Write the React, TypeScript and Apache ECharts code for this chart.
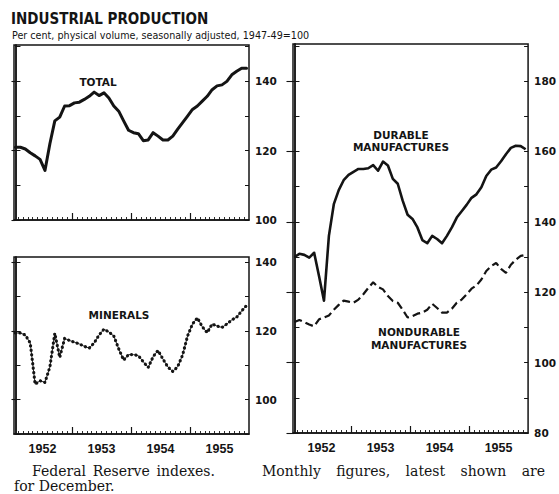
import React, { useEffect, useRef } from 'react';
import * as echarts from 'echarts';

// ---- data (monthly, Jan 1952 – Dec 1955; index 1947-49 = 100) ----
const years = ['1952', '1953', '1954', '1955'];

const total = [
  121.0, 121.0, 120.5, 119.4, 118.5, 117.5, 114.3, 122.0, 128.6, 129.7,
  132.9, 133.0, 133.8, 134.0, 134.8, 135.7, 136.9, 135.9, 136.7, 135.2,
  132.9, 131.4, 128.6, 125.9, 125.2, 124.9, 122.9, 123.1, 125.2, 124.2,
  123.1, 123.1, 124.2, 126.2, 128.1, 130.0, 131.9, 132.9, 134.3, 135.7,
  137.6, 138.7, 139.0, 140.0, 141.9, 142.9, 143.8, 143.8,
];

const minerals = [
  119.4, 119.4, 118.8, 116.5, 104.5, 105.5, 105.0, 109.5, 119.3, 112.3,
  117.8, 117.2, 116.7, 116.2, 115.5, 115.0, 116.5, 118.8, 120.5, 119.7,
  118.5, 114.8, 111.5, 113.1, 113.1, 112.8, 111.0, 109.4, 112.5, 114.3,
  111.8, 109.5, 108.2, 109.6, 113.0, 118.5, 122.0, 123.8, 121.2, 119.5,
  122.0, 121.4, 121.0, 122.0, 123.2, 124.0, 125.8, 127.4,
];

const durable = [
  130.0, 130.9, 130.6, 129.8, 131.2, 124.5, 117.6, 136.0, 145.0, 149.0,
  151.8, 153.3, 154.2, 155.0, 155.0, 155.2, 156.1, 154.5, 157.1, 156.0,
  152.2, 150.8, 146.0, 142.0, 140.8, 138.4, 134.8, 133.9, 136.0, 135.1,
  133.9, 136.0, 138.4, 141.2, 143.0, 144.8, 146.8, 147.8, 149.8, 153.0,
  154.8, 155.4, 157.2, 159.2, 161.0, 161.6, 161.5, 160.6,
];

const nondurable = [
  111.5, 112.1, 111.5, 110.8, 110.3, 112.3, 112.8, 113.4, 115.0, 116.4,
  117.6, 117.3, 117.0, 117.9, 119.4, 121.2, 122.8, 121.5, 120.8, 118.9,
  117.5, 117.0, 115.0, 112.8, 113.2, 113.9, 114.2, 115.0, 116.7, 115.5,
  114.2, 114.2, 115.3, 117.0, 117.9, 119.4, 121.0, 121.9, 123.6, 126.0,
  127.4, 128.3, 126.6, 125.5, 127.8, 129.2, 130.3, 130.6,
];

const totalTickLabels = [100, 120, 140];
const mineralTickLabels = [100, 120, 140];
const manufTickLabels = [80, 100, 120, 140, 160, 180];

const titleText = 'INDUSTRIAL PRODUCTION';
const subtitleText = 'Per cent, physical volume, seasonally adjusted, 1947-49=100';
const captionA = ['Federal', 'Reserve', 'indexes.'];
const captionB = ['Monthly', 'figures,', 'latest', 'shown', 'are'];
const captionC = 'for December.';

export default function App() {
  const ref = useRef<HTMLDivElement>(null);

  useEffect(() => {
    if (!ref.current) return;
    const chart = echarts.init(ref.current, null, { renderer: 'svg' });
    const ink = '#141414';
    const X_MIN = -0.3;
    const X_MAX = 47.5;

    const monthTicks = total.slice(0, -1).map((_, i) => i + 0.5);
    const yearBounds = years.slice(1).map((_, k) => (k + 1) * 12 - 0.5);
    const yearCenters = years.map((_, k) => k * 12 + 5.5);

    const minorOf = (min: number, max: number) => {
      const out: number[] = [];
      for (let v = Math.ceil(min / 10) * 10; v <= max; v += 10) out.push(v);
      return out;
    };

    const panels = [
      { grid: { left: 14, top: 45, width: 235, height: 175 }, min: 100, max: 150.5, labels: totalTickLabels, showYears: false, majorLen: 4 },
      { grid: { left: 14, top: 257, width: 235, height: 177 }, min: 90, max: 141.5, labels: mineralTickLabels, showYears: true, majorLen: 4 },
      { grid: { left: 293, top: 44, width: 236, height: 389 }, min: 80, max: 190.5, labels: manufTickLabels, showYears: true, majorLen: 8 },
    ];

    const grids: any[] = [];
    const xAxes: any[] = [];
    const yAxes: any[] = [];

    panels.forEach((p, k) => {
      grids.push({ ...p.grid, show: true, borderColor: ink, borderWidth: 1.5, backgroundColor: 'transparent', containLabel: false });
      xAxes.push({
        type: 'value', gridIndex: k, position: 'bottom', min: X_MIN, max: X_MAX,
        axisLine: { show: true, lineStyle: { color: ink, width: 1.5 } },
        axisTick: { show: true, inside: true, length: 3, customValues: monthTicks, lineStyle: { color: ink, width: 0.9 } },
        axisLabel: {
          show: p.showYears, customValues: yearCenters, margin: 8,
          formatter: (v: number) => years[Math.round((v - 5.5) / 12)] ?? '',
          color: ink, fontFamily: '"Liberation Sans Narrow", "Liberation Sans", sans-serif', fontWeight: 'bold', fontSize: 12.5,
        },
        splitLine: { show: false },
      });
      xAxes.push({
        type: 'value', gridIndex: k, position: 'bottom', min: X_MIN, max: X_MAX,
        axisLine: { show: false },
        axisTick: { show: true, inside: true, length: 7, customValues: yearBounds, lineStyle: { color: ink, width: 1.2 } },
        axisLabel: { show: false },
        splitLine: { show: false },
      });
      const minor = minorOf(p.min, p.max);
      yAxes.push({
        type: 'value', gridIndex: k, position: 'left', min: p.min, max: p.max,
        axisLine: { show: true, lineStyle: { color: ink, width: 1.5 } },
        axisTick: { show: true, inside: true, length: 5, customValues: minor, lineStyle: { color: ink, width: 1 } },
        axisLabel: { show: false },
        splitLine: { show: false },
      });
      yAxes.push({
        type: 'value', gridIndex: k, position: 'right', min: p.min, max: p.max,
        axisLine: { show: true, lineStyle: { color: ink, width: 1.5 } },
        axisTick: { show: true, inside: true, length: p.majorLen, customValues: p.labels, lineStyle: { color: ink, width: 1.1 } },
        axisLabel: {
          show: true, customValues: p.labels, margin: 6, color: ink,
          fontFamily: '"DejaVu Sans", sans-serif', fontWeight: 'bold', fontSize: 10.5,
        },
        splitLine: { show: false },
      });
      yAxes.push({
        type: 'value', gridIndex: k, position: 'right', min: p.min, max: p.max,
        axisLine: { show: false },
        axisTick: { show: true, inside: true, length: 4, customValues: minor, lineStyle: { color: ink, width: 1 } },
        axisLabel: { show: false },
        splitLine: { show: false },
      });
    });

    const pts = (arr: number[]) => arr.map((v, i) => [i, v]);

    const series: any[] = [
      {
        name: 'Total', type: 'line', xAxisIndex: 0, yAxisIndex: 0, data: pts(total),
        showSymbol: false, silent: true,
        lineStyle: { color: ink, width: 3, join: 'round', cap: 'round' },
      },
      {
        name: 'Minerals', type: 'line', xAxisIndex: 2, yAxisIndex: 3, data: pts(minerals),
        showSymbol: false, silent: true,
        lineStyle: { color: ink, width: 0.9 },
      },
      {
        name: 'Minerals dots', type: 'line', xAxisIndex: 2, yAxisIndex: 3, data: pts(minerals),
        showSymbol: false, silent: true,
        lineStyle: { color: ink, width: 3.2, type: [0.1, 4.4], cap: 'round' },
      },
      {
        name: 'Durable manufactures', type: 'line', xAxisIndex: 4, yAxisIndex: 6, data: pts(durable),
        showSymbol: false, silent: true,
        lineStyle: { color: ink, width: 2.6, join: 'round' },
      },
      {
        name: 'Nondurable manufactures', type: 'line', xAxisIndex: 4, yAxisIndex: 6, data: pts(nondurable),
        showSymbol: false, silent: true,
        lineStyle: { color: ink, width: 2.2, type: [8, 4] },
      },
    ];

    // caption justification
    const serif = '"DejaVu Serif", "Liberation Serif", serif';
    const capSize = 14;
    const ctx = document.createElement('canvas').getContext('2d')!;
    ctx.font = `${capSize}px "DejaVu Serif", serif`;
    const capStyle = { fill: ink, fontFamily: serif, fontSize: capSize, verticalAlign: 'middle', align: 'left', lineHeight: 14 };
    const justify = (words: string[], x0: number, x1: number, y: number) => {
      const ws = words.map((w) => ctx.measureText(w).width);
      const sum = ws.reduce((a, b) => a + b, 0);
      const gap = words.length > 1 ? (x1 - x0 - sum) / (words.length - 1) : 0;
      let x = x0;
      return words.map((w, i) => {
        const el = { type: 'text', x, y, silent: true, style: { text: w, ...capStyle } };
        x += ws[i] + gap;
        return el;
      });
    };

    const labelFont = { fontFamily: '"DejaVu Sans", sans-serif', fontWeight: 'bold', fontSize: 10.5, fill: ink };

    const graphic: any[] = [
      {
        type: 'text', left: 11, top: 11, silent: true,
        style: { text: titleText, fill: ink, fontFamily: '"DejaVu Sans Condensed", "DejaVu Sans", sans-serif', fontWeight: 'bold', fontSize: 15 },
      },
      {
        type: 'text', left: 12, top: 30, silent: true,
        style: { text: subtitleText, fill: ink, fontFamily: '"DejaVu Sans", sans-serif', fontSize: 9.6 },
      },
      { type: 'text', x: 98, y: 82, silent: true, style: { text: 'TOTAL', align: 'center', verticalAlign: 'middle', ...labelFont } },
      { type: 'text', x: 119, y: 315, silent: true, style: { text: 'MINERALS', align: 'center', verticalAlign: 'middle', ...labelFont } },
      { type: 'text', x: 401, y: 141, silent: true, style: { text: 'DURABLE\nMANUFACTURES', align: 'center', verticalAlign: 'middle', lineHeight: 12.5, ...labelFont } },
      { type: 'text', x: 419, y: 338.5, silent: true, style: { text: 'NONDURABLE\nMANUFACTURES', align: 'center', verticalAlign: 'middle', lineHeight: 12.5, ...labelFont } },
      ...justify(captionA, 32, 215, 471),
      ...justify(captionB, 262, 545, 471),
      { type: 'text', x: 14, y: 485.5, silent: true, style: { text: captionC, ...capStyle } },
    ];

    chart.setOption({
      animation: false,
      backgroundColor: '#ffffff',
      grid: grids,
      xAxis: xAxes,
      yAxis: yAxes,
      series,
      graphic,
    });

    return () => chart.dispose();
  }, []);

  return (
    <div
      ref={ref}
      style={{ position: 'fixed', left: 0, top: 0, width: 559, height: 494, background: '#fff' }}
    />
  );
}
